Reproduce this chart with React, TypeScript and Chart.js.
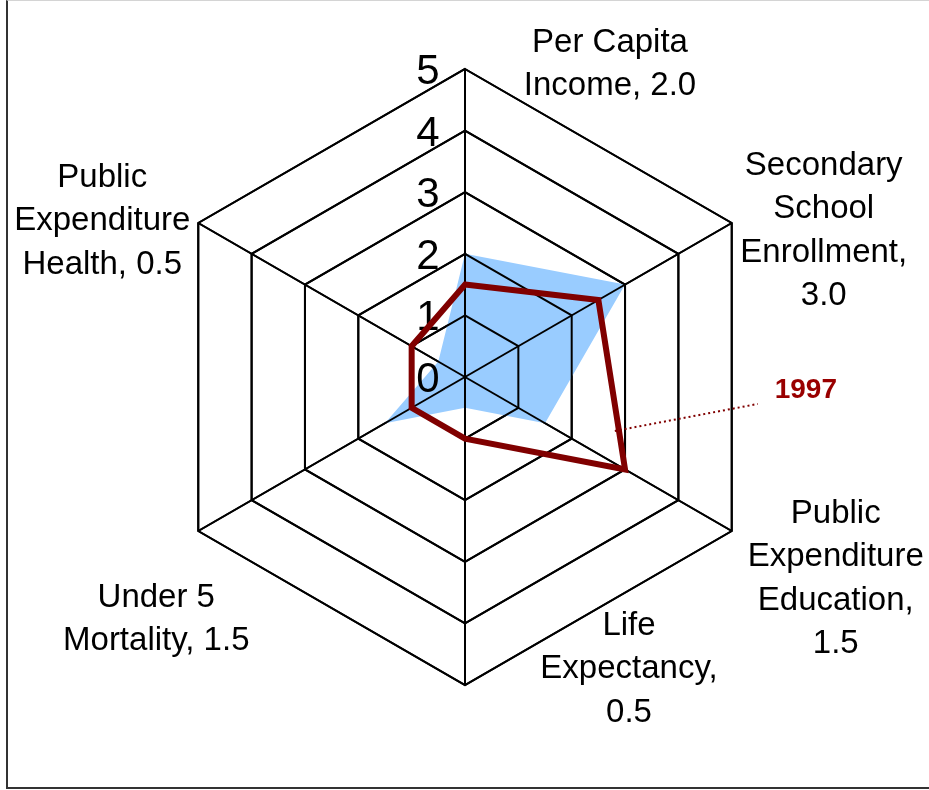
import React, { useEffect, useRef } from "react";
import { Chart, registerables } from "chart.js";

Chart.register(...registerables);

// ---- Data ----
const categories = [
  "Per Capita Income",
  "Secondary School Enrollment",
  "Public Expenditure Education",
  "Life Expectancy",
  "Under 5 Mortality",
  "Public Expenditure Health",
];
const categoryLabelLines = [
  ["Per Capita", "Income, 2.0"],
  ["Secondary", "School", "Enrollment,", "3.0"],
  ["Public", "Expenditure", "Education,", "1.5"],
  ["Life", "Expectancy,", "0.5"],
  ["Under 5", "Mortality, 1.5"],
  ["Public", "Expenditure", "Health, 0.5"],
];
const currentValues = [2.0, 3.0, 1.5, 0.5, 1.5, 0.5];
const values1997 = [1.5, 2.5, 3.0, 1.0, 1.0, 1.0];
const seriesLabel1997 = "1997";
const tickValues = [0, 1, 2, 3, 4, 5];

// ---- Styling / layout ----
const FONT = '"Liberation Sans", Arial, Helvetica, sans-serif';
const labelOffsets: [number, number][] = [
  [145, -17],
  [92, -48],
  [104, -8],
  [164, -50],
  [-42, 76],
  [-96, -36],
];
const LINE_H = 43.4;

const overlayPlugin = {
  id: "overlay",
  afterDatasetDraw(chart: any, args: any) {
    if (args.index !== 0) return;
    const scale = chart.scales.r;
    const ctx = chart.ctx as CanvasRenderingContext2D;
    // grid drawn over the filled area
    scale.drawGrid();

    ctx.save();
    // tick labels
    ctx.font = `42px ${FONT}`;
    ctx.fillStyle = "#000";
    ctx.textAlign = "center";
    ctx.textBaseline = "alphabetic";
    tickValues.forEach((v) => {
      const p = scale.getPointPositionForValue(0, v);
      ctx.fillText(String(v), p.x - 37, p.y + 15);
    });

    // category labels
    ctx.font = `33px ${FONT}`;
    categoryLabelLines.forEach((lines, i) => {
      const p = scale.getPointPositionForValue(i, scale.max);
      const [dx, dy] = labelOffsets[i];
      lines.forEach((line, j) => {
        ctx.fillText(line, p.x + dx, p.y + dy + j * LINE_H);
      });
    });

    // leader line + series label for 1997
    const meta = chart.getDatasetMeta(1);
    const a = meta.data[1];
    const b = meta.data[2];
    const t = 0.767;
    const sx = a.x + (b.x - a.x) * t;
    const sy = a.y + (b.y - a.y) * t;
    ctx.strokeStyle = "#800000";
    ctx.lineWidth = 2;
    ctx.setLineDash([2, 3]);
    ctx.beginPath();
    ctx.moveTo(sx - 4, sy + 1);
    ctx.lineTo(sx + 139, sy - 26);
    ctx.stroke();
    ctx.setLineDash([]);
    ctx.font = `bold 28px ${FONT}`;
    ctx.fillStyle = "#990000";
    ctx.textAlign = "center";
    ctx.textBaseline = "alphabetic";
    ctx.fillText(seriesLabel1997, sx + 187, sy - 32);
    ctx.restore();
  },
};

export default function App() {
  const canvasRef = useRef<HTMLCanvasElement | null>(null);

  useEffect(() => {
    if (!canvasRef.current) return;
    const chart = new Chart(canvasRef.current, {
      type: "radar",
      data: {
        labels: categories,
        datasets: [
          {
            label: "Current",
            data: currentValues,
            backgroundColor: "#99CCFF",
            borderColor: "rgba(0,0,0,0)",
            borderWidth: 1,
            fill: "origin",
            pointRadius: 0,
            order: 2,
          },
          {
            label: seriesLabel1997,
            data: values1997,
            borderColor: "#800000",
            backgroundColor: "rgba(0,0,0,0)",
            borderWidth: 6,
            borderJoinStyle: "miter",
            fill: false,
            pointRadius: 0,
            order: 1,
          },
        ],
      },
      options: {
        responsive: false,
        animation: false,
        events: [],
        layout: { padding: { left: 157, right: 156, top: 69, bottom: 105 } },
        plugins: {
          legend: { display: false },
          tooltip: { enabled: false },
        },
        elements: { line: { tension: 0 } },
        scales: {
          r: {
            min: 0,
            max: 5,
            beginAtZero: true,
            ticks: { display: false, stepSize: 1 },
            grid: { color: "#000", lineWidth: 2 },
            angleLines: { color: "#000", lineWidth: 2 },
            pointLabels: { display: false },
          },
        },
      },
      plugins: [overlayPlugin],
    } as any);
    return () => chart.destroy();
  }, []);

  return (
    <div
      style={{
        position: "fixed",
        left: 0,
        top: 0,
        width: 929,
        height: 790,
        overflow: "hidden",
        background: "#fff",
      }}
    >
      <div
        style={{
          position: "absolute",
          left: 6,
          top: 0,
          width: 1000,
          height: 789,
          boxSizing: "border-box",
          borderLeft: "2px solid #333",
          borderBottom: "2px solid #333",
          borderTop: "1px solid #d4d4d4",
        }}
      />
      <canvas
        ref={canvasRef}
        width={929}
        height={790}
        style={{ position: "absolute", left: 0, top: 0, display: "block" }}
      />
    </div>
  );
}
